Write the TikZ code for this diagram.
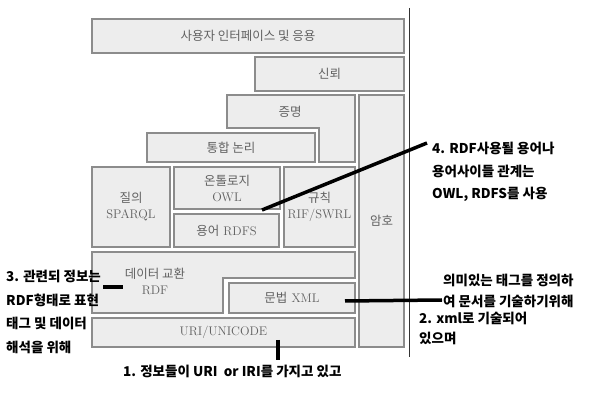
\documentclass[tikz,border=0pt]{standalone}
\usepackage{fontspec}
\newfontfamily\kr{Noto Sans CJK KR}
\usetikzlibrary{positioning}

\tikzset{
  layer/.style={draw=black!45, line width=1.1pt, fill=black!7, text=black!62,
    font=\fontsize{12.5}{16}\selectfont, align=center, inner sep=0pt},
  lshape/.style={draw=black!45, line width=1.1pt, fill=black!7},
  boxtext/.style={text=black!62, font=\fontsize{12.5}{16}\selectfont, align=center, inner sep=0pt},
  note/.style={font=\kr\bfseries\fontsize{13.5}{23.5}\selectfont, align=left, anchor=west, inner sep=0pt},
  pen/.style={line width=3.5pt, black}
}

\begin{document}
\begin{tikzpicture}[x=1pt, y=-1pt]
\useasboundingbox (0,0) rectangle (592,403);

% stack of layers
\node[layer, minimum width=312pt, minimum height=34pt] (ui) at (248,36) {\kr 사용자 인터페이스 및 응용};
\node[layer, minimum width=149pt, minimum height=34pt] (trust) at (329.5,74) {\kr 신뢰};
\draw[lshape] (227,95) -- (355,95) -- (355,162) -- (319,162) -- (319,128) -- (227,128) -- cycle;
\node[boxtext] (proof) at (290,112) {\kr 증명};
\node[layer, minimum width=168pt, minimum height=29pt] (logic) at (231,147.5) {\kr 통합 논리};
\node[layer, minimum width=45pt, minimum height=252pt] (crypto) at (381.5,221) {\kr 암호};
\node[layer, minimum width=78pt, minimum height=80pt] (query) at (131,207) {{\kr 질의}\\SPARQL};
\node[layer, minimum width=106pt, minimum height=42pt] (onto) at (227,188) {{\kr 온톨로지}\\OWL};
\node[layer, minimum width=105pt, minimum height=33pt] (rdfs) at (226.5,230.5) {{\kr 용어} RDFS};
\node[layer, minimum width=71pt, minimum height=80pt] (rule) at (319.5,207) {{\kr 규칙}\\RIF/SWRL};
\draw[lshape] (92,252) -- (355,252) -- (355,278) -- (223,278) -- (223,313) -- (92,313) -- cycle;
\node[boxtext] (rdf) at (155,281) {{\kr 데이터 교환}\\RDF};
\node[layer, minimum width=126pt, minimum height=30pt] (xml) at (292,298) {{\kr 문법} XML};
\node[layer, minimum width=263pt, minimum height=29pt] (uri) at (223.5,332.5) {URI/UNICODE};
\draw[black!80, line width=0.8pt] (409,8) -- (409,357);

% notes
\node[note, anchor=north west] (n3) at (6,270) {3. 관련되 정보는\\RDF형태로 표현\\태그 및 데이터\\해석을 위해};
\node[note] (n1) at (123,371) {1. 정보들이 URI\ \ or IRI를 가지고 있고};
\node[note, anchor=north west, font=\kr\bfseries\fontsize{13.5}{22.5}\selectfont] (n4) at (432,142) {4. RDF사용될 용어나\\용어사이들 관계는\\OWL, RDFS를 사용};
\node[note, anchor=north west, font=\kr\bfseries\fontsize{13.5}{21}\selectfont] (n2a) at (443,274) {의미있는 태그를 정의하\\여 문서를 기술하기위해};
\node[note, anchor=north west, font=\kr\bfseries\fontsize{13.5}{20}\selectfont] (n2b) at (419,312) {2. xml로 기술되어\\있으며};

% pen strokes
\coordinate (owlpt) at (262,210);
\coordinate (n4pt) at (427,143);
\coordinate (rdfa) at (103,287);
\coordinate (rdfb) at (123,287);
\coordinate (xmlpt) at (345,301);
\coordinate (n2pt) at (442,300);
\coordinate (uript) at (278,340);
\coordinate (n1pt) at (278,360);
\draw[pen] (owlpt) -- (n4pt);
\draw[pen] (rdfa) -- (rdfb);
\draw[pen] (xmlpt) -- (n2pt);
\draw[pen] (uript) -- (n1pt);
\end{tikzpicture}
\end{document}
